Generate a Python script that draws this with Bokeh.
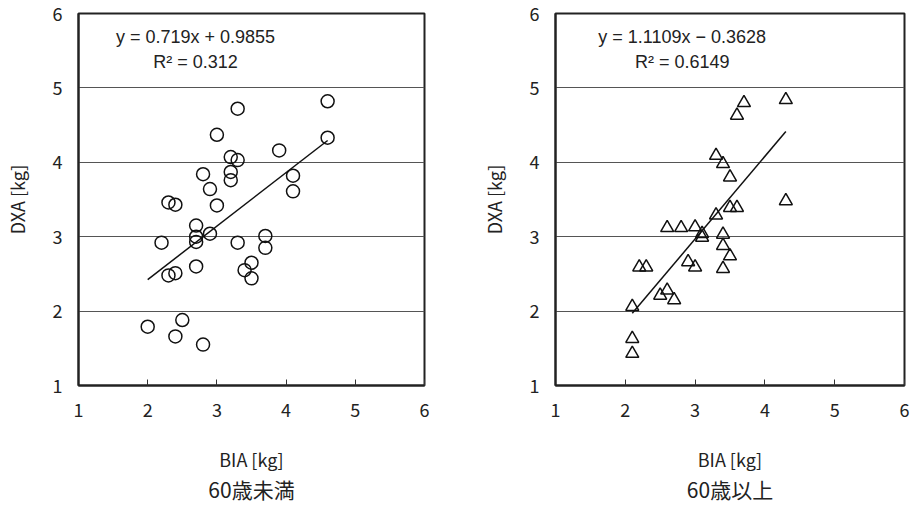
from bokeh.plotting import figure
from bokeh.layouts import row
from bokeh.models import Label, Title, FixedTicker
from bokeh.embed import file_html
from bokeh.resources import INLINE

# BIA vs DXA measurements, under 60
young_bia = [4.6, 3.3, 3.0, 4.6, 3.9, 3.2, 3.3, 2.8, 3.2, 3.2, 4.1, 4.1, 2.9,
             2.3, 2.4, 3.0, 2.7, 2.7, 2.7, 2.9, 2.2, 3.3, 3.7, 3.7, 3.5, 3.4,
             3.5, 2.7, 2.4, 2.3, 2.5, 2.0, 2.4, 2.8]
young_dxa = [4.82, 4.72, 4.37, 4.33, 4.16, 4.07, 4.03, 3.84, 3.87, 3.76, 3.82, 3.61, 3.64,
             3.46, 3.43, 3.42, 3.15, 3.00, 2.93, 3.04, 2.92, 2.92, 3.01, 2.85, 2.65, 2.55,
             2.44, 2.60, 2.51, 2.48, 1.88, 1.79, 1.66, 1.55]

# BIA vs DXA measurements, 60 and over
old_bia = [4.3, 3.7, 3.6, 3.3, 3.4, 3.5, 4.3, 3.5, 3.6, 3.3, 2.6, 2.8, 3.0,
           3.1, 3.1, 3.4, 3.4, 3.5, 3.4, 2.9, 3.0, 2.2, 2.3, 2.6, 2.5, 2.7,
           2.1, 2.1, 2.1]
old_dxa = [4.84, 4.80, 4.63, 4.09, 3.98, 3.80, 3.48, 3.39, 3.39, 3.29, 3.12, 3.12, 3.13,
           3.04, 2.99, 3.03, 2.88, 2.74, 2.57, 2.66, 2.59, 2.59, 2.59, 2.28, 2.21, 2.15,
           2.06, 1.63, 1.43]

# linear fits reported on each panel
young_fit = (0.719, 0.9855, 0.312)
old_fit = (1.1109, -0.3628, 0.6149)

axis_ticks = [1, 2, 3, 4, 5, 6]
grid_ticks = [2, 3, 4, 5]

FONT = "Noto Sans CJK JP"
LATIN = "Liberation Sans"


def panel(bia, dxa, fit, marker, eq_text, r2_text, eq_x, subtitle,
          width, left, right):
    p = figure(width=width, height=506, x_range=(1, 6), y_range=(1, 6),
               output_backend="svg", toolbar_location=None,
               min_border_left=left, min_border_top=13,
               min_border_bottom=121, min_border_right=right)
    p.background_fill_color = "white"
    p.border_fill_color = "white"
    p.outline_line_color = "#222222"
    p.outline_line_width = 2

    p.xgrid.visible = False
    p.ygrid.ticker = FixedTicker(ticks=grid_ticks)
    p.ygrid.grid_line_color = "#555555"
    p.ygrid.grid_line_width = 1

    for ax in (p.xaxis[0], p.yaxis[0]):
        ax.ticker = FixedTicker(ticks=axis_ticks)
        ax.axis_line_color = "#222222"
        ax.axis_line_width = 2
        ax.major_tick_out = 0
        ax.minor_tick_line_color = None
        ax.major_label_text_font = FONT
        ax.major_label_text_font_size = "18px"
        ax.major_label_text_color = "#222222"
        ax.axis_label_text_font = FONT
        ax.axis_label_text_font_style = "normal"
        ax.axis_label_text_font_size = "18px"
        ax.axis_label_text_color = "#222222"
    p.xaxis.major_tick_in = 6
    p.xaxis.major_tick_line_color = "#333333"
    p.yaxis.major_tick_in = 0
    p.yaxis.major_tick_line_color = None
    p.xaxis.major_label_standoff = 17
    p.yaxis.major_label_standoff = 16
    p.xaxis.axis_label = "BIA [kg]"
    p.yaxis.axis_label = "DXA [kg]"
    p.xaxis.axis_label_standoff = 26
    p.yaxis.axis_label_standoff = 20

    slope, icpt, _ = fit
    x0, x1 = min(bia), max(bia)
    p.line([x0, x1], [slope * x0 + icpt, slope * x1 + icpt],
           line_color="#111111", line_width=1.5)
    p.scatter(bia, dxa, marker=marker, size=13, fill_color=None,
              line_color="#111111", line_width=1.5)

    p.add_layout(Label(x=eq_x, y=5.69, text=eq_text, text_align="center",
                       text_baseline="middle", text_font=LATIN,
                       text_font_size="18px", text_color="#222222"))
    p.add_layout(Label(x=eq_x, y=5.35, text=r2_text, text_align="center",
                       text_baseline="middle", text_font=LATIN,
                       text_font_size="18px", text_color="#222222"))

    p.add_layout(Title(text=subtitle, align="center", text_font=FONT,
                       text_font_size="21px", text_font_style="normal",
                       text_color="#222222", standoff=-6), "below")
    return p


p1 = panel(young_bia, young_dxa, young_fit, "circle",
           f"y = {young_fit[0]}x + {young_fit[1]}", f"R² = {young_fit[2]}",
           2.69, "60歳未満", 470, 76, 46)
p2 = panel(old_bia, old_dxa, old_fit, "triangle",
           f"y = {old_fit[0]}x − {abs(old_fit[1])}", f"R² = {old_fit[2]}",
           2.815, "60歳以上", 441, 85, 7)

layout = row(p1, p2)
open("out.html", "w").write(file_html(layout, INLINE))
